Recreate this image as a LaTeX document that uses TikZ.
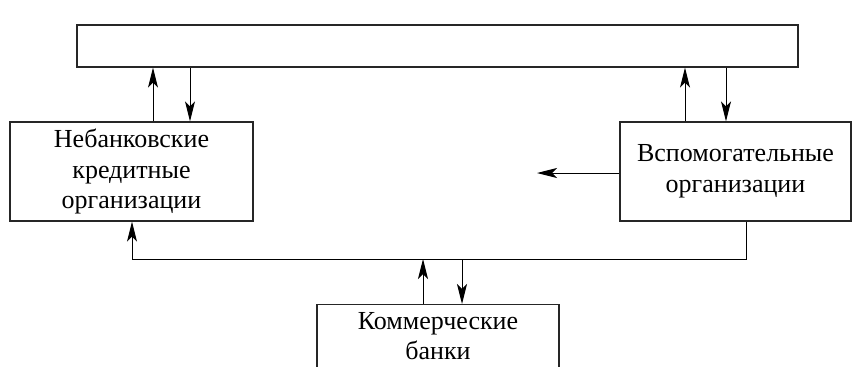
\documentclass[tikz,border=0pt]{standalone}
\usepackage{fontspec}
\setmainfont{Liberation Serif}
\usetikzlibrary{arrows.meta,positioning}
\begin{document}
\begin{tikzpicture}[x=1pt,y=-1pt,
    box/.style={draw=black!85,line width=1.2pt,inner sep=0pt},
    txt/.style={align=center,font=\fontsize{26}{30.5}\selectfont,inner sep=0pt},
    arr/.style={line width=1pt,-{Stealth[length=20pt,width=10pt,inset=5pt]}}]
    \clip (0,0) rectangle (852,367);
    % boxes
    \node[box,minimum width=721pt,minimum height=42pt] (top) at (437.5,46) {};
    \node[box,txt,minimum width=243pt,minimum height=99pt] (nbko) at (131.5,171.5)
        {Небанковские\\кредитные\\организации};
    \node[box,txt,minimum width=231pt,minimum height=99pt] (vspom) at (735.5,171.5)
        {Вспомогательные\\организации};
    \node[box,minimum width=242pt,minimum height=100pt,anchor=north] (kb) at (438,304) {};
    \node[txt,anchor=north] (kbtext) at ([yshift=-8pt]kb.north) {Коммерческие\\банки};
    % connectors
    \coordinate (bus) at (0,259);
    \coordinate (free) at (537,173);
    \draw[arr] ([xshift=21.5pt]nbko.north) -- ([xshift=21.5pt]nbko.north |- top.south);
    \draw[arr] ([xshift=58.5pt]nbko.north |- top.south) -- ([xshift=58.5pt]nbko.north);
    \draw[arr] ([xshift=-50.5pt]vspom.north) -- ([xshift=-50.5pt]vspom.north |- top.south);
    \draw[arr] ([xshift=-9.5pt]vspom.north |- top.south) -- ([xshift=-9.5pt]vspom.north);
    \draw[arr] (vspom.west |- free) -- (free);
    \draw[arr] ([xshift=10.5pt]vspom.south) |- ([xshift=0.5pt]nbko.south |- bus)
        -- ([xshift=0.5pt]nbko.south);
    \draw[arr] ([xshift=-15pt]kb.north) -- ([xshift=-15pt]kb.north |- bus);
    \draw[arr] ([xshift=24pt]kb.north |- bus) -- ([xshift=24pt]kb.north);
\end{tikzpicture}
\end{document}
